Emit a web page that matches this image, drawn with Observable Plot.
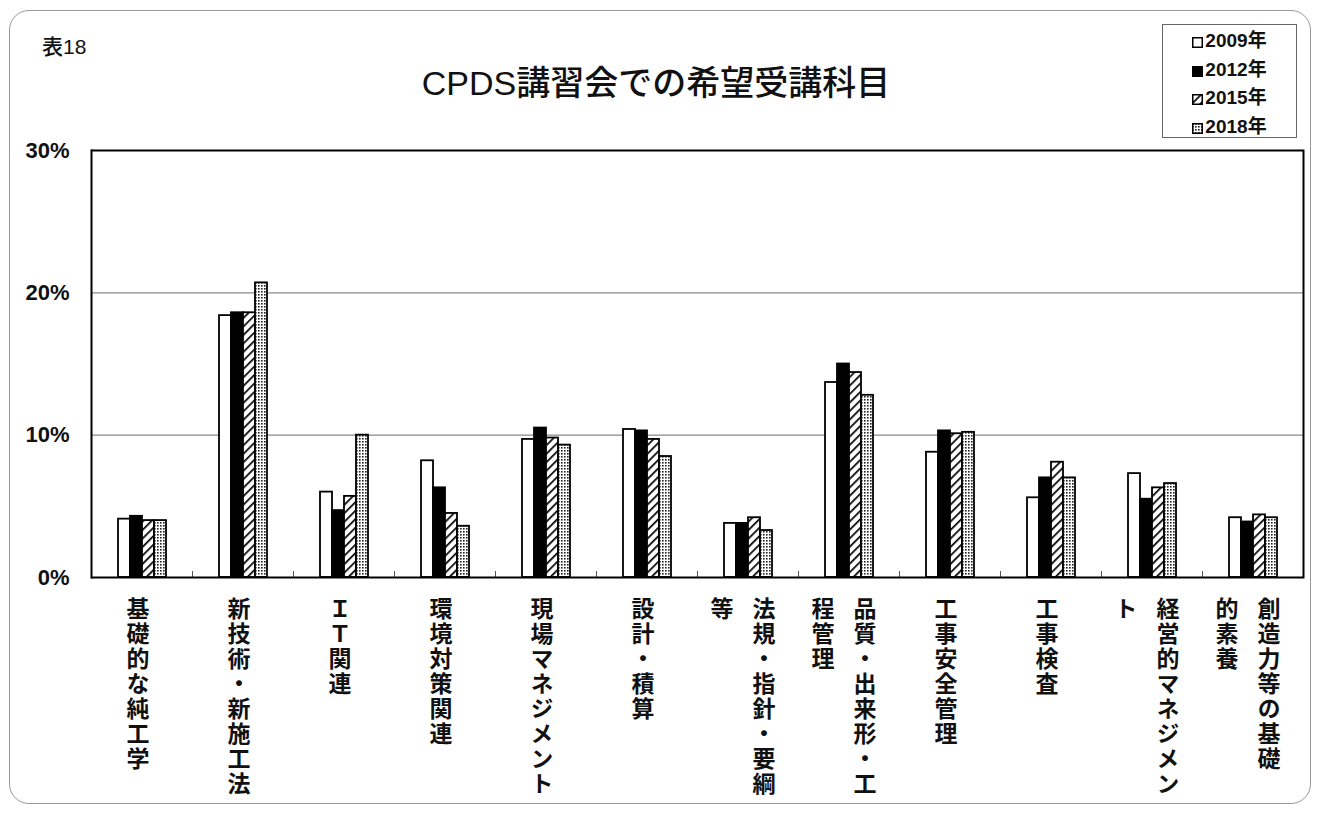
<!DOCTYPE html>
<html>
<head>
<meta charset="utf-8">
<script src="https://cdn.jsdelivr.net/npm/d3@7"></script>
<script src="https://cdn.jsdelivr.net/npm/@observablehq/plot@0.6"></script>
<style>
  html, body { margin: 0; padding: 0; background: #fff; }
  #wrap { position: relative; width: 1321px; height: 814px; overflow: hidden; font-family: "Liberation Sans", "Noto Sans CJK JP", sans-serif; color: #111; }
  #border { position: absolute; left: 9px; top: 10px; width: 1302px; height: 794px; border: 1.5px solid #9a9a9a; border-radius: 20px; box-sizing: border-box; }
  #chart { position: absolute; left: 0; top: 0; }
  #tag { position: absolute; left: 42px; top: 35px; font-size: 21px; line-height: 24px; font-weight: 500; }
  #title { position: absolute; left: 256px; width: 800px; top: 64px; text-align: center; font-size: 34px; line-height: 38px; font-weight: 500; }
  #legend { position: absolute; left: 1162px; top: 24px; width: 135px; height: 114px; border: 1.5px solid #666; box-sizing: border-box; background: #fff; padding-top: 2px; }
  #legend .row { height: 28.5px; line-height: 28.5px; text-align: center; font-size: 19px; font-weight: bold; white-space: nowrap; }
  #legend svg { vertical-align: -1px; margin-right: 2px; }
  svg g[aria-label="text"] text { writing-mode: vertical-rl; letter-spacing: 2px; }
</style>
</head>
<body>
<svg width="0" height="0" style="position:absolute">
  <defs>
    <pattern id="hatch" width="6" height="6" patternUnits="userSpaceOnUse" patternTransform="rotate(45)">
      <rect width="6" height="6" fill="white"/>
      <line x1="0" y1="0" x2="0" y2="6" stroke="black" stroke-width="3.4"/>
    </pattern>
    <pattern id="dots" width="3" height="3" patternUnits="userSpaceOnUse">
      <rect width="3" height="3" fill="white"/>
      <rect x="0" y="0" width="1.6" height="1.6" fill="#222"/>
    </pattern>
  </defs>
</svg>
<div id="wrap">
  <div id="border"></div>
  <div id="chart"></div>
  <div id="tag">表18</div>
  <div id="title">CPDS講習会での希望受講科目</div>
  <div id="legend"></div>
</div>
<script>
// ---- data ----
const categories = ["基礎的な純工学", "新技術・新施工法", "ＩＴ関連", "環境対策関連", "現場マネジメント", "設計・積算", "法規・指針・要綱等", "品質・出来形・工程管理", "工事安全管理", "工事検査", "経営的マネジメント", "創造力等の基礎的素養"];
const labelLines = [["基礎的な純工学"], ["新技術・新施工法"], ["ＩＴ関連"], ["環境対策関連"], ["現場マネジメント"], ["設計・積算"], ["法規・指針・要綱", "等"], ["品質・出来形・工", "程管理"], ["工事安全管理"], ["工事検査"], ["経営的マネジメン", "ト"], ["創造力等の基礎", "的素養"]];
const years = ["2009年", "2012年", "2015年", "2018年"];
const v2009 = [4.1, 18.4, 6.0, 8.2, 9.7, 10.4, 3.8, 13.7, 8.8, 5.6, 7.3, 4.2];
const v2012 = [4.3, 18.6, 4.7, 6.3, 10.5, 10.3, 3.8, 15.0, 10.3, 7.0, 5.5, 3.9];
const v2015 = [4.0, 18.6, 5.7, 4.5, 9.8, 9.7, 4.2, 14.4, 10.1, 8.1, 6.3, 4.4];
const v2018 = [4.0, 20.7, 10.0, 3.6, 9.3, 8.5, 3.3, 12.8, 10.2, 7.0, 6.6, 4.2];
const yTicks = [0, 10, 20, 30];
const fills = ["white", "black", "url(#hatch)", "url(#dots)"];

// ---- tables built from arrays ----
const series = [v2009, v2012, v2015, v2018];
const rows = [];
categories.forEach((c, i) => series.forEach((s, j) => rows.push({cat: c, year: years[j], value: s[i]})));
const single = [], firstCol = [], secondCol = [];
categories.forEach((c, i) => {
  const L = labelLines[i];
  if (L.length === 1) single.push({cat: c, text: L[0]});
  else { firstCol.push({cat: c, text: L[0]}); secondCol.push({cat: c, text: L[1]}); }
});

const labelFont = "'Noto Sans CJK JP', sans-serif";
const labelOpts = {fx: "cat", text: "text", frameAnchor: "bottom", dy: 19, textAnchor: "start", fontSize: 23, fontWeight: "bold", fontFamily: labelFont, fill: "#111"};

const chart = Plot.plot({
  width: 1321, height: 814,
  marginLeft: 90, marginRight: 18, marginTop: 150, marginBottom: 237,
  style: {background: "transparent", fontFamily: "'Liberation Sans', 'Noto Sans CJK JP', sans-serif", color: "#111"},
  fx: {domain: categories, padding: 0, axis: null},
  x: {domain: years, paddingInner: 0, paddingOuter: 1.9, axis: null},
  y: {domain: [0, 30], axis: null},
  color: {type: "ordinal", domain: years, range: fills},
  marks: [
    Plot.ruleY([10, 20], {stroke: "#8a8a8a", strokeWidth: 1.3}),
    Plot.barY(rows, {fx: "cat", x: "year", y: "value", fill: "year", stroke: "black", strokeWidth: 1.8}),
    Plot.frame({anchor: "left", insetTop: 421, stroke: "#555", strokeWidth: 1}),
    Plot.ruleY([0], {stroke: "black", strokeWidth: 2.2}),
    Plot.ruleY([30], {stroke: "black", strokeWidth: 2}),
    Plot.frame({anchor: "left", facetAnchor: "left", stroke: "black", strokeWidth: 2}),
    Plot.frame({anchor: "right", facetAnchor: "right", stroke: "black", strokeWidth: 2}),
    Plot.axisY({ticks: yTicks, tickFormat: d => d + "%", tickSize: 0, tickPadding: 22, fontSize: 22, fontWeight: "bold", label: null}),
    Plot.text(single, {...labelOpts, dx: -4}),
    Plot.text(firstCol, {...labelOpts, dx: 16}),
    Plot.text(secondCol, {...labelOpts, dx: -26})
  ]
});
document.getElementById("chart").appendChild(chart);

// ---- legend ----
const legend = document.getElementById("legend");
years.forEach((y, j) => {
  const row = document.createElement("div");
  row.className = "row";
  row.innerHTML = `<svg width="11" height="11"><rect x="0.75" y="0.75" width="9.5" height="9.5" fill="${fills[j]}" stroke="black" stroke-width="1.5"/></svg>${y}`;
  legend.appendChild(row);
});
</script>
</body>
</html>
